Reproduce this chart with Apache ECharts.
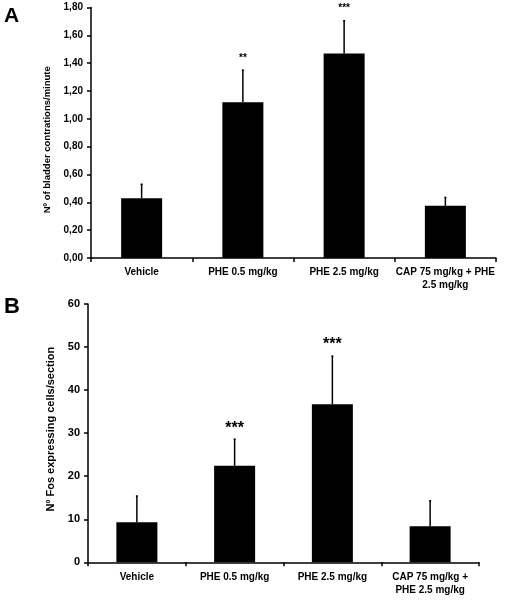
<!DOCTYPE html>
<html><head><meta charset="utf-8">
<script src="https://cdn.jsdelivr.net/npm/echarts@6/dist/echarts.min.js"></script>
<style>html,body{margin:0;padding:0;background:#fff}#c{width:505px;height:600px}</style>
</head><body><div id="c"></div>
<script>
const categoriesA = ['Vehicle', 'PHE 0.5 mg/kg', 'PHE 2.5 mg/kg', 'CAP 75 mg/kg + PHE\n2.5 mg/kg'];
const meansA = [0.43, 1.12, 1.47, 0.375];
const errA = [0.10, 0.23, 0.235, 0.06];
const starsA = ['', '**', '***', ''];
const categoriesB = ['Vehicle', 'PHE 0.5 mg/kg', 'PHE 2.5 mg/kg', 'CAP 75 mg/kg +\nPHE 2.5 mg/kg'];
const meansB = [9.3, 22.4, 36.7, 8.4];
const errB = [6.1, 6.2, 11.2, 5.9];
const starsB = ['', '***', '***', ''];

const font = 'Liberation Sans, Arial, sans-serif';
const chart = echarts.init(document.getElementById('c'), null, {renderer: 'canvas'});

function errSeries(idx, means, errs, stars, starSize, starGap) {
  return {
    type: 'custom', xAxisIndex: idx, yAxisIndex: idx, z: 5,
    data: means.map((m, i) => [i, m, errs[i], stars[i]]),
    renderItem: function (params, api) {
      const i = api.value(0), m = api.value(1), e = api.value(2);
      const s = stars[i];
      const p0 = api.coord([i, m]);
      const p1 = api.coord([i, m + e]);
      const children = [{
        type: 'line', shape: {x1: p0[0], y1: p0[1], x2: p1[0], y2: p1[1]},
        style: {stroke: '#000', lineWidth: 1.5}
      }, {
        type: 'line', shape: {x1: p1[0] - 1, y1: p1[1], x2: p1[0] + 1, y2: p1[1]},
        style: {stroke: '#000', lineWidth: 1.5}
      }];
      if (s) {
        children.push({
          type: 'text', x: p1[0], y: p1[1] - starGap,
          style: {text: s, fill: '#000', font: 'bold ' + starSize + 'px ' + font, align: 'center', verticalAlign: 'middle'}
        });
      }
      return {type: 'group', children: children};
    }
  };
}

const axisLineStyle = {color: '#000', width: 1.5};
chart.setOption({
  animation: false,
  backgroundColor: '#fff',
  textStyle: {fontFamily: font},
  graphic: [
    {type: 'text', left: 4, top: 6, style: {text: 'A', font: 'bold 21px ' + font, fill: '#000'}},
    {type: 'text', left: 4, top: 296, style: {text: 'B', font: 'bold 22px ' + font, fill: '#000'}}
  ],
  grid: [
    {left: 91, right: 9, top: 7.5, height: 250.5},
    {left: 88, right: 26, top: 304, height: 258.3}
  ],
  xAxis: [
    {type: 'category', gridIndex: 0, data: categoriesA,
     axisLine: {lineStyle: axisLineStyle}, axisTick: {show: true, length: 4, lineStyle: axisLineStyle, alignWithLabel: false},
     axisLabel: {color: '#000', fontWeight: 'bold', fontSize: 10, margin: 8, lineHeight: 13, interval: 0}},
    {type: 'category', gridIndex: 1, data: categoriesB,
     axisLine: {lineStyle: axisLineStyle}, axisTick: {show: true, length: 4, lineStyle: axisLineStyle, alignWithLabel: false},
     axisLabel: {color: '#000', fontWeight: 'bold', fontSize: 10, margin: 8, lineHeight: 13, interval: 0}}
  ],
  yAxis: [
    {type: 'value', gridIndex: 0, min: 0, max: 1.8, interval: 0.2,
     name: 'Nº of bladder contrations/minute', nameLocation: 'middle', nameGap: 34,
     nameTextStyle: {color: '#000', fontWeight: 'bold', fontSize: 9.5, padding: [0, 14, 0, 0]},
     axisLine: {show: true, lineStyle: axisLineStyle}, axisTick: {show: true, length: 4, lineStyle: axisLineStyle},
     splitLine: {show: false},
     axisLabel: {color: '#000', fontWeight: 'bold', fontSize: 10, margin: 8, formatter: v => v.toFixed(2).replace('.', ',')}},
    {type: 'value', gridIndex: 1, min: 0, max: 60, interval: 10,
     name: 'Nº Fos expressing cells/section', nameLocation: 'middle', nameGap: 28,
     nameTextStyle: {color: '#000', fontWeight: 'bold', fontSize: 11, padding: [0, 0, 0, 8]},
     axisLine: {show: true, lineStyle: axisLineStyle}, axisTick: {show: true, length: 4, lineStyle: axisLineStyle},
     splitLine: {show: false},
     axisLabel: {color: '#000', fontWeight: 'bold', fontSize: 11, margin: 8}}
  ],
  series: [
    {type: 'bar', xAxisIndex: 0, yAxisIndex: 0, data: meansA, barWidth: 41, itemStyle: {color: '#000'}},
    {type: 'bar', xAxisIndex: 1, yAxisIndex: 1, data: meansB, barWidth: 41, itemStyle: {color: '#000'}},
    errSeries(0, meansA, errA, starsA, 10, 12),
    errSeries(1, meansB, errB, starsB, 16, 11)
  ]
});
</script></body></html>
